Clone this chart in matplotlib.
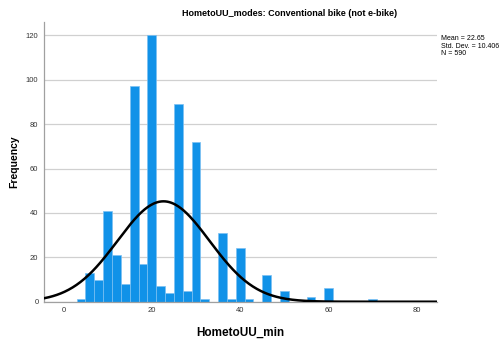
import numpy as np
import matplotlib
matplotlib.use("Agg")
import matplotlib.pyplot as plt

plt.rcParams['font.family'] = ['Liberation Sans', 'DejaVu Sans']

# bin centres (minutes) and counts
bin_centers = [4, 6, 8, 10, 12, 14, 16, 18, 20, 22, 24, 26, 28, 30, 32,
               36, 38, 40, 42, 46, 50, 56, 60, 70]
counts = [1, 13, 10, 41, 21, 8, 97, 17, 120, 7, 4, 89, 5, 72, 1,
          31, 1, 24, 1, 12, 5, 2, 6, 1]
bin_width = 2
mean = 22.65
std = 10.406
n = 590

title = "HometoUU_modes: Conventional bike (not e-bike)"
x_ticks = [0, 20, 40, 60, 80]
y_ticks = [0, 20, 40, 60, 80, 100, 120]

fig = plt.figure(figsize=(5.04, 3.4), dpi=100)
ax = fig.add_axes([0.0873, 0.1126, 0.7798, 0.8224])

ax.bar(bin_centers, counts, width=bin_width, color='#1192e8',
       edgecolor='#7cc0f2', linewidth=0.5, zorder=2)

xlim = (-4.37, 84.5)
xs = np.linspace(xlim[0], xlim[1], 400)
pdf = np.exp(-0.5 * ((xs - mean) / std) ** 2) / (std * np.sqrt(2 * np.pi))
ax.plot(xs, pdf * n * bin_width, color='black', linewidth=1.8, zorder=3)

ax.set_xlim(*xlim)
ax.set_ylim(0, 126)
ax.set_xticks(x_ticks)
ax.set_yticks(y_ticks)
ax.tick_params(axis='both', labelsize=5.5, colors='#333333', length=0, pad=4)
ax.yaxis.grid(True, color='#d0d0d0', linewidth=0.9, zorder=0)
ax.set_axisbelow(True)
for s in ['top', 'right']:
    ax.spines[s].set_visible(False)
for s in ['left', 'bottom']:
    ax.spines[s].set_color('#a0a0a0')
    ax.spines[s].set_linewidth(0.9)

ax.set_xlabel("HometoUU_min", fontsize=8.5, fontweight='bold', labelpad=9)
ax.set_ylabel("Frequency", fontsize=7.5, fontweight='bold', labelpad=5)

fig.text(290 / 504, 1 - 14 / 340, title, fontsize=6.5, fontweight='bold',
         ha='center', va='center')
fig.text(441 / 504, 1 - 35 / 340,
         "Mean = %.2f\nStd. Dev. = %.3f\nN = %d" % (mean, std, n),
         fontsize=5, ha='left', va='top', linespacing=1.1)

fig.savefig("out.png", dpi=100)
